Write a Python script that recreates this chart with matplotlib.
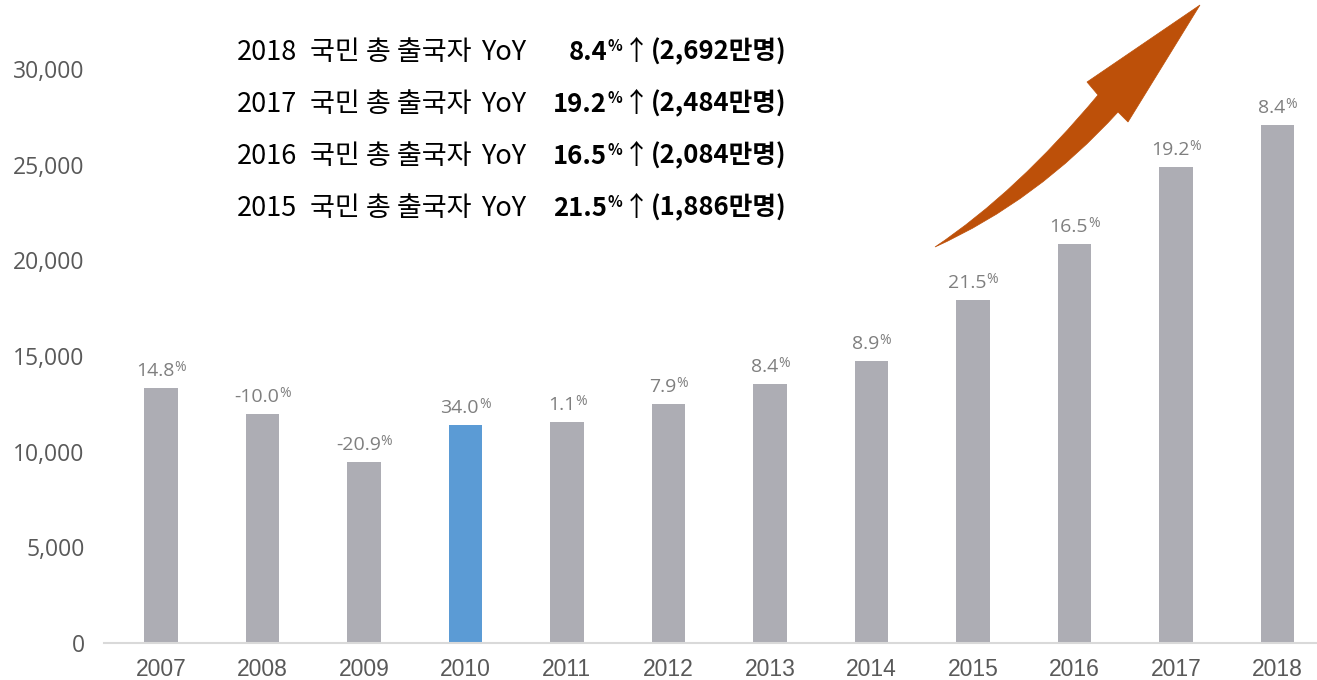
import matplotlib
matplotlib.use('Agg')
import matplotlib.pyplot as plt
from matplotlib import font_manager
from matplotlib.path import Path
from matplotlib.patches import PathPatch
import matplotlib.transforms as mtransforms

# data
years = ['2007', '2008', '2009', '2010', '2011', '2012',
         '2013', '2014', '2015', '2016', '2017', '2018']
travellers = [13330, 11970, 9460, 11390, 11550, 12490,
              13540, 14740, 17930, 20850, 24880, 27070]
growth = ['14.8', '-10.0', '-20.9', '34.0', '1.1', '7.9',
          '8.4', '8.9', '21.5', '16.5', '19.2', '8.4']
highlight = '2010'

head_years = ['2018', '2017', '2016', '2015']
head_yoy = ['8.4', '19.2', '16.5', '21.5']
head_total = ['2,692', '2,484', '2,084', '1,886']

W, H = 1317, 680
GRAY_BAR = '#ADADB4'
BLUE_BAR = '#5B9BD5'
LABEL = '#7F7F7F'
TICK = '#595959'
ORANGE = '#BD5009'


def has_font(name):
    try:
        font_manager.findfont(font_manager.FontProperties(family=name),
                              fallback_to_default=False)
        return True
    except Exception:
        return False


xfont = 'Liberation Sans Narrow' if has_font('Liberation Sans Narrow') else 'Liberation Sans'
kfont = ['Noto Sans CJK KR', 'DejaVu Sans']

fig = plt.figure(figsize=(W / 100, H / 100), dpi=100)
ax = fig.add_axes([104 / W, 37 / H, 1 - 104 / W, 643 / H])

x = list(range(len(years)))
colors = [BLUE_BAR if y == highlight else GRAY_BAR for y in years]
bars = ax.bar(x, travellers, width=0.33, color=colors, zorder=2)

ax.set_xlim(-0.56, 11.39)
ax.set_ylim(0, 30000 * 643 / 574)
ax.set_yticks(range(0, 30001, 5000))
ax.set_yticklabels([f'{v:,}' for v in range(0, 30001, 5000)],
                   family='Open Sans', fontsize=16.5, color=TICK)
ax.set_xticks(x)
ax.set_xticklabels(years, family=xfont, fontsize=16.5, color=TICK)
ax.tick_params(axis='y', length=0, pad=14)
ax.tick_params(axis='x', length=0, pad=11)
for s in ['top', 'right', 'left']:
    ax.spines[s].set_visible(False)
ax.spines['bottom'].set_color('#D9D9D9')
ax.spines['bottom'].set_linewidth(1.5)

# growth labels above bars with small superscript %
for xi, val, g in zip(x, travellers, growth):
    t = ax.annotate(g, xy=(xi, val), xytext=(-4, 6), textcoords='offset points',
                    ha='center', va='bottom', family='Open Sans',
                    fontsize=14, color=LABEL)
    ax.annotate('%', xy=(1.0, 1.0), xycoords=t, xytext=(0, 1),
                textcoords='offset points', ha='left', va='top',
                family='Open Sans', fontsize=10, color=LABEL)

# header text block (pixel positions from the reference)
line_y = [52, 104, 156, 208]
fs = 19.5
fb = 18.5
for yy, yr, yoy, tot in zip(line_y, head_years, head_yoy, head_total):
    fy = 1 - yy / H
    fig.text(237 / W, fy, yr, family=kfont, fontsize=fs, weight='medium',
             va='center', ha='left')
    fig.text(310 / W, fy, '국민 총 출국자', family=kfont, fontsize=fs,
             va='center', ha='left')
    fig.text(481 / W, fy, 'YoY', family=kfont, fontsize=fs, weight='light',
             va='center', ha='left')
    fig.text(607 / W, fy, yoy, family=kfont, fontsize=fb, weight='bold',
             va='center', ha='right')
    fig.text(608 / W, fy + 6 / H, '%', family=kfont, fontsize=11, weight='bold',
             va='center', ha='left')
    fig.text(623 / W, fy, '↑', family=kfont, fontsize=fs,
             va='center', ha='left')
    fig.text(651 / W, fy, f'({tot}만명)', family=kfont, fontsize=fb,
             weight='bold', va='center', ha='left')

# curved growth arrow, drawn in figure pixel space (y down)
px = mtransforms.Affine2D().scale(1 / W, -1 / H).translate(0, 1) + fig.transFigure
verts = [(935, 247), (1017, 192), (1098, 95),
         (1087, 82), (1200, 5), (1128, 122), (1118, 112),
         (1037, 201), (935, 247), (935, 247)]
codes = [Path.MOVETO, Path.CURVE3, Path.CURVE3,
         Path.LINETO, Path.LINETO, Path.LINETO, Path.LINETO,
         Path.CURVE3, Path.CURVE3, Path.CLOSEPOLY]
fig.patches.append(PathPatch(Path(verts, codes), facecolor=ORANGE,
                             edgecolor=ORANGE, lw=0.5, transform=px))

fig.savefig('out.png', dpi=100)
